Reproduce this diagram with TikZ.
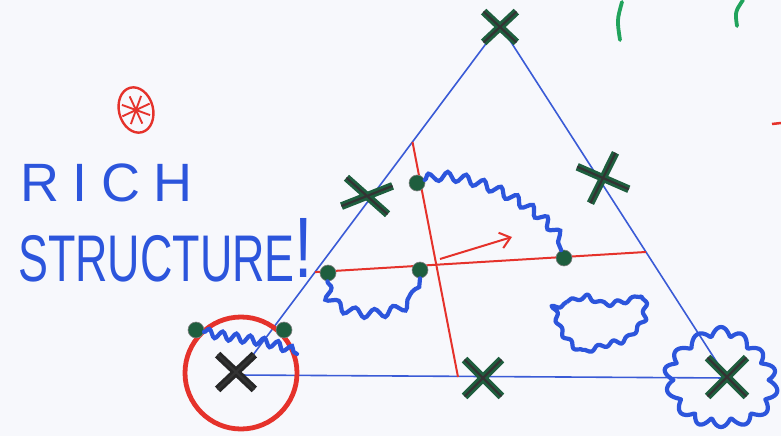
\documentclass[tikz,border=0pt]{standalone}
\usepackage{fontspec}
\setmainfont{Liberation Sans}
\usetikzlibrary{shapes.misc,shapes.geometric,decorations.pathmorphing,arrows.meta,calc}
\definecolor{pen}{HTML}{2C55DC}
\definecolor{tri}{HTML}{3A5BD6}
\definecolor{redpen}{HTML}{E5322B}
\definecolor{xg}{HTML}{1E5E3E}
\definecolor{gpen}{HTML}{21A35C}
\definecolor{bg}{HTML}{F7F8FC}
\begin{document}
\begin{tikzpicture}[x=1pt,y=-1pt,
 xmk/.style={cross out, draw=xg, line width=2.8pt, double=black!80, double distance=2.2pt, minimum width=30pt, minimum height=28pt, inner sep=0pt},
 dot/.style={circle, fill=xg, draw=black!50, line width=0.6pt, minimum size=16pt, inner sep=0pt},
 edge/.style={draw=tri, line width=1.6pt},
 redline/.style={draw=redpen, line width=2pt},
 wavy/.style={draw=pen, line width=4.2pt, line cap=round, decorate, decoration={snake, segment length=18pt, amplitude=4.5pt}},
 blob/.style={draw=pen, line width=4.2pt, line join=round},
 handtext/.style={text=pen, inner sep=0pt, anchor=base west}
]
\fill[bg] (0,0) rectangle (781,436);
\useasboundingbox (0,0) rectangle (781,436);
% triangle
\coordinate (T) at (500,25);
\coordinate (L) at (238,375);
\coordinate (R) at (727,378);
\draw[edge] (T) -- (L) -- (R) -- cycle;
% red lines
\coordinate (v1) at ($(T)!0.334!(L)$);
\coordinate (v2) at (458,377);
\coordinate (h1) at ($(T)!0.706!(L)$);
\coordinate (h2) at ($(T)!0.643!(R)$);
\draw[redline] (v1) -- (v2);
\draw[redline] (h1) -- (h2);
\coordinate (a1) at (440,259);
\coordinate (a2) at (512,237);
\draw[redline, -{Straight Barb[length=10pt,width=16pt]}] (a1) -- (a2);
% red circle
\node[draw=redpen, line width=4.8pt, circle, minimum size=112pt] (rc) at (241,373) {};
% blobs
\draw[blob, decorate, decoration={snake, segment length=16pt, amplitude=2.2pt}] plot[smooth cycle, tension=0.6] coordinates {(550,307) (567,302) (583,298) (600,305) (617,303) (630,300) (638,298) (638,320) (630,330) (620,340) (607,343) (590,348) (577,352) (570,348) (557,333) (552,318)};
\draw[blob] plot[domain=0:358, samples=180, variable=\t] ({721+(45+4*sin(2*\t+40)+9*abs(sin(7*\t)))*cos(\t)},{380+(41+3*sin(3*\t)+9*abs(sin(7*\t)))*sin(\t)}) -- cycle;
% dots
\node[dot] (d1) at (417,183) {};
\node[dot] (d2) at (564,258) {};
\node[dot] (d3) at (328,273) {};
\node[dot] (d4) at (420,270) {};
\node[dot] (d5) at (196,330) {};
\node[dot] (d6) at (284,330) {};
\coordinate (w1) at (297,354);
\draw[wavy] (d1) .. controls (455,168) and (545,205) .. (d2);
\draw[wavy, decoration={segment length=20pt}] (d3) .. controls (325,318) and (420,318) .. (d4);
\draw[wavy, decoration={segment length=14pt, amplitude=4pt}] (d5) .. controls (240,340) and (270,338) .. (w1);
% crosses
\node[xmk] (x1) at (500,27) {};
\node[xmk, minimum width=44pt, minimum height=26pt, rotate=-10] (x2) at (367,196) {};
\node[xmk, minimum width=38pt, minimum height=36pt, rotate=20] (x3) at (603,178) {};
\node[xmk, minimum width=34pt, minimum height=34pt] (x4) at (483,378) {};
\node[xmk, draw=black!85, minimum width=34pt, minimum height=32pt] (x5) at (236,372) {};
\node[xmk, minimum width=36pt, minimum height=36pt] (x6) at (727,377) {};
% text
\node[handtext, font=\fontsize{54}{54}\selectfont\addfontfeature{LetterSpace=25}] (rich) at (20,201) {RICH};
\node[handtext, font=\fontsize{66}{66}\selectfont] (struct) at (18,281) {\scalebox{0.68}[1]{STRUCTURE}\raisebox{4pt}{\scalebox{1}[1.3]{!}}};
% asterisk
\node[draw=redpen, ellipse, line width=2.4pt, minimum width=34pt, minimum height=46pt, rotate=15] (ast) at (136,110) {};
\foreach \a in {20,65,110,155}
  \draw[redpen, line width=1.9pt] ($(ast.center)+(\a:15)$) -- ($(ast.center)+(\a+180:15)$);
% marks at top right
\draw[gpen, line width=3.8pt, line cap=round] (622,2) .. controls (617,20) .. (620,40);
\draw[gpen, line width=3.8pt, line cap=round] (743,0) .. controls (735,12) .. (737,26);
\draw[redpen, line width=2.5pt] (772,124) -- (781,123);
\end{tikzpicture}
\end{document}
